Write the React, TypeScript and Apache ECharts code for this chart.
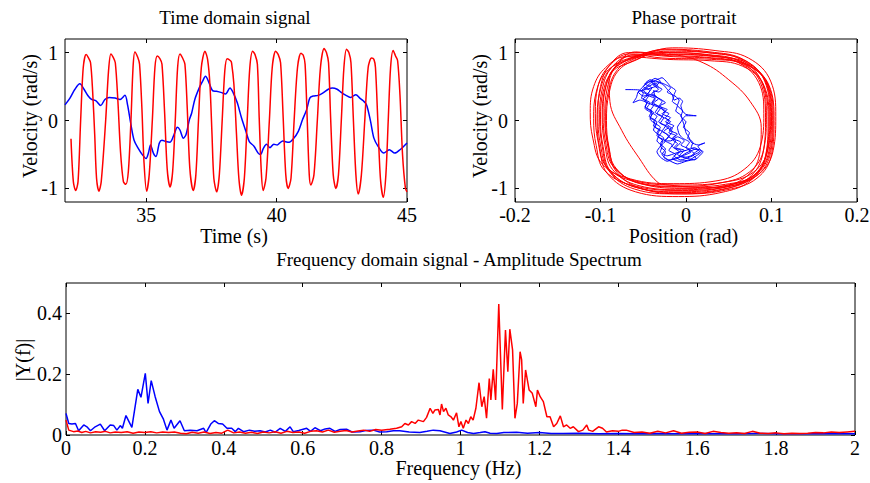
import React, { useEffect, useRef } from "react";
import * as echarts from "echarts";

type P = [number, number];

// ---------- Time domain (t [s], velocity [rad/s]) ----------
const timeBlue: P[] = [
  [31.88, 0.23], [32.07, 0.33], [32.26, 0.46], [32.45, 0.54], [32.61, 0.46], [32.77, 0.36], [32.9, 0.31],
  [33.07, 0.29], [33.25, 0.22], [33.41, 0.31], [33.58, 0.34], [33.8, 0.33], [33.99, 0.31], [34.18, 0.37],
  [34.28, 0.23], [34.4, -0.04], [34.53, -0.29], [34.69, -0.41], [34.86, -0.51], [34.99, -0.56], [35.08, -0.48],
  [35.16, -0.36], [35.27, -0.48], [35.37, -0.53], [35.5, -0.33], [35.6, -0.29], [35.75, -0.31], [35.91, -0.32],
  [36.06, -0.21], [36.19, -0.1], [36.29, -0.14], [36.42, -0.26], [36.52, -0.21], [36.65, 0.01], [36.74, 0.11],
  [36.86, 0.31], [37.03, 0.48], [37.16, 0.58], [37.27, 0.65], [37.38, 0.58], [37.54, 0.44], [37.69, 0.43],
  [37.89, 0.41], [38.04, 0.39], [38.21, 0.48], [38.33, 0.41], [38.49, 0.26], [38.65, 0.04], [38.82, -0.16],
  [38.95, -0.31], [39.13, -0.38], [39.29, -0.48], [39.38, -0.5], [39.49, -0.41], [39.61, -0.35], [39.74, -0.4],
  [39.89, -0.35], [40.02, -0.36], [40.12, -0.33], [40.23, -0.3], [40.32, -0.31], [40.48, -0.32], [40.64, -0.27],
  [40.83, -0.16], [40.99, 0.01], [41.15, 0.16], [41.27, 0.33], [41.4, 0.36], [41.59, 0.37], [41.79, 0.41],
  [41.98, 0.46], [42.14, 0.48], [42.32, 0.46], [42.49, 0.41], [42.66, 0.37], [42.83, 0.34], [43.04, 0.38],
  [43.19, 0.33], [43.32, 0.29], [43.45, 0.23], [43.6, -0.01], [43.73, -0.26], [43.89, -0.38], [44.11, -0.48],
  [44.32, -0.43], [44.53, -0.48], [44.73, -0.43], [45.0, -0.33],
];

const timeRed: P[] = [
  [32.11, -0.27], [32.2, -0.9], [32.29, -1.03], [32.38, -0.9], [32.48, 0], [32.58, 0.78], [32.69, 0.97], [32.77, 0.93], [32.86, 0.85], [32.94, 0.43], [33.02, -0.21], [33.09, -0.85], [33.18, -1.04],
  [33.27, -0.9], [33.44, 0], [33.55, 0.73], [33.64, 0.98], [33.73, 0.93], [33.81, 0.85], [33.91, 0.28], [34.01, -0.46], [34.12, -0.9], [34.21, -0.94],
  [34.31, -0.75], [34.41, 0], [34.49, 0.78], [34.56, 1.01], [34.67, 0.93], [34.74, 0.83], [34.83, 0.18], [34.91, -0.61], [35.01, -1.04],
  [35.11, -0.8], [35.23, 0], [35.33, 0.78], [35.42, 0.95], [35.52, 0.91], [35.6, 0.83], [35.7, 0.13], [35.8, -0.71], [35.91, -0.98],
  [36.01, -0.75], [36.11, 0], [36.2, 0.78], [36.29, 0.98], [36.39, 0.92], [36.48, 0.83], [36.57, 0.18], [36.67, -0.71], [36.8, -1.03],
  [36.9, -0.8], [37.0, 0], [37.11, 0.78], [37.25, 1.02], [37.35, 0.9], [37.44, 0.53], [37.52, -0.21], [37.59, -0.85], [37.7, -1.05],
  [37.8, -0.8], [37.91, 0], [38.01, 0.73], [38.1, 0.91], [38.23, 0.88], [38.27, 0.85], [38.36, 0.53], [38.46, -0.21], [38.55, -0.85], [38.65, -1.1],
  [38.76, -0.85], [38.87, 0], [38.97, 0.78], [39.08, 1.02], [39.17, 0.97], [39.26, 0.83], [39.33, 0.04], [39.41, -0.75], [39.48, -1.03],
  [39.59, -0.85], [39.72, 0], [39.83, 0.78], [39.96, 1.02], [40.06, 0.97], [40.15, 0.85], [40.25, 0.04], [40.35, -0.8], [40.44, -1.0],
  [40.55, -0.85], [40.67, 0], [40.8, 0.78], [40.93, 0.99], [41.02, 0.96], [41.09, 0.83], [41.17, 0.04], [41.25, -0.8], [41.31, -0.95],
  [41.43, -0.8], [41.56, 0], [41.68, 0.78], [41.82, 1.06], [41.91, 1.0], [41.99, 0.85], [42.07, 0.04], [42.17, -0.8], [42.27, -1.0],
  [42.37, -0.8], [42.48, 0], [42.58, 0.78], [42.68, 1.05], [42.77, 1.0], [42.85, 0.85], [42.94, 0.04], [43.04, -0.8], [43.13, -1.08],
  [43.25, -0.8], [43.38, 0], [43.51, 0.78], [43.64, 0.92], [43.73, 0.9], [43.79, 0.78], [43.88, 0], [43.98, -0.85], [44.09, -1.13],
  [44.19, -0.8], [44.28, 0], [44.37, 0.78], [44.47, 1.03], [44.56, 0.95], [44.64, 0.88], [44.73, 0.38], [44.83, -0.51], [44.94, -1.0], [45.0, -1.05],
];

// ---------- Phase portrait (position [rad], velocity [rad/s]) ----------
// each loop is listed clockwise, starting at the top of the orbit
const phaseRedLoops: P[][] = [
  [[-0.02, 0.98], [0.03, 0.95], [0.068, 0.85], [0.094, 0.55], [0.1, 0.05], [0.097, -0.45], [0.08, -0.8], [0.045, -0.96], [-0.005, -1.02], [-0.055, -0.96], [-0.086, -0.72], [-0.095, -0.35], [-0.098, 0.05], [-0.095, 0.45], [-0.084, 0.76], [-0.062, 0.93]],
  [[-0.024, 1.04], [0.026, 1.0], [0.064, 0.9], [0.088, 0.58], [0.094, 0.08], [0.091, -0.42], [0.074, -0.76], [0.04, -0.92], [-0.01, -0.97], [-0.06, -0.9], [-0.093, -0.68], [-0.103, -0.3], [-0.106, 0.1], [-0.103, 0.5], [-0.09, 0.8], [-0.066, 0.98]],
  [[-0.015, 0.94], [0.035, 0.91], [0.072, 0.82], [0.097, 0.52], [0.103, 0.0], [0.1, -0.5], [0.083, -0.85], [0.048, -1.02], [0.0, -1.08], [-0.05, -1.01], [-0.081, -0.76], [-0.09, -0.4], [-0.093, 0.0], [-0.09, 0.4], [-0.08, 0.72], [-0.058, 0.9]],
  [[-0.028, 1.0], [0.022, 0.97], [0.06, 0.86], [0.085, 0.56], [0.091, 0.1], [0.087, -0.38], [0.068, -0.72], [0.035, -0.89], [-0.015, -0.93], [-0.065, -0.86], [-0.098, -0.64], [-0.109, -0.26], [-0.112, 0.12], [-0.108, 0.5], [-0.094, 0.78], [-0.07, 0.94]],
  [[-0.022, 0.9], [0.028, 0.88], [0.066, 0.8], [0.091, 0.52], [0.097, 0.02], [0.094, -0.48], [0.077, -0.83], [0.043, -0.99], [-0.007, -1.05], [-0.057, -0.99], [-0.088, -0.75], [-0.097, -0.38], [-0.1, 0.02], [-0.097, 0.42], [-0.086, 0.72], [-0.064, 0.86]],
  [[-0.016, 1.07], [0.034, 1.03], [0.073, 0.92], [0.099, 0.58], [0.105, 0.06], [0.102, -0.44], [0.085, -0.79], [0.05, -0.95], [0.0, -1.0], [-0.05, -0.94], [-0.083, -0.7], [-0.092, -0.34], [-0.095, 0.06], [-0.092, 0.48], [-0.081, 0.82], [-0.059, 1.01]],
  [[-0.026, 0.96], [0.024, 0.93], [0.064, 0.84], [0.09, 0.54], [0.096, -0.02], [0.093, -0.52], [0.076, -0.88], [0.041, -1.06], [-0.009, -1.12], [-0.059, -1.05], [-0.092, -0.78], [-0.101, -0.4], [-0.104, -0.02], [-0.101, 0.4], [-0.09, 0.74], [-0.068, 0.91]],
  [[-0.019, 1.02], [0.031, 0.99], [0.069, 0.88], [0.093, 0.57], [0.099, 0.06], [0.096, -0.42], [0.079, -0.76], [0.044, -0.91], [-0.006, -0.95], [-0.056, -0.9], [-0.085, -0.68], [-0.094, -0.32], [-0.097, 0.08], [-0.094, 0.48], [-0.083, 0.79], [-0.061, 0.97]],
  [[-0.028, 0.92], [0.03, 0.9], [0.07, 0.82], [0.096, 0.53], [0.102, 0.02], [0.099, -0.47], [0.082, -0.82], [0.046, -0.98], [-0.004, -1.03], [-0.058, -0.97], [-0.095, -0.74], [-0.105, -0.37], [-0.108, 0.03], [-0.105, 0.42], [-0.093, 0.72], [-0.07, 0.88]],
  [[-0.023, 1.0], [0.026, 0.97], [0.063, 0.87], [0.087, 0.56], [0.093, 0.04], [0.09, -0.48], [0.073, -0.85], [0.038, -1.03], [-0.012, -1.08], [-0.06, -1.01], [-0.089, -0.76], [-0.098, -0.38], [-0.101, 0.05], [-0.098, 0.46], [-0.087, 0.78], [-0.065, 0.95]],
  [[-0.016, 0.97], [0.034, 0.94], [0.071, 0.85], [0.095, 0.54], [0.101, 0.0], [0.098, -0.46], [0.081, -0.8], [0.046, -0.94], [-0.004, -0.98], [-0.053, -0.93], [-0.082, -0.7], [-0.091, -0.36], [-0.094, 0.0], [-0.091, 0.42], [-0.08, 0.75], [-0.058, 0.92]],
  [[-0.025, 1.05], [0.028, 1.01], [0.067, 0.9], [0.092, 0.58], [0.098, 0.05], [0.095, -0.46], [0.078, -0.84], [0.043, -1.01], [-0.007, -1.06], [-0.057, -0.99], [-0.09, -0.74], [-0.1, -0.36], [-0.103, 0.09], [-0.1, 0.5], [-0.089, 0.82], [-0.067, 1.0]],
  [[-0.015, 0.97], [0.02, 0.85], [0.05, 0.6], [0.075, 0.28], [0.088, -0.1], [0.086, -0.5], [0.068, -0.85], [0.03, -0.99], [-0.02, -0.95], [-0.034, -0.9], [-0.055, -0.55], [-0.075, -0.15], [-0.089, 0.28], [-0.09, 0.62], [-0.07, 0.88], [-0.04, 0.98]],
];

const phaseBlue: P[] = [
  [-0.071, 0.455], [-0.055, 0.45], [-0.05, 0.4], [-0.052, 0.33], [-0.045, 0.27], [-0.048, 0.2], [-0.04, 0.14], [-0.043, 0.06], [-0.036, 0.0], [-0.038, -0.08], [-0.031, -0.14], [-0.034, -0.22], [-0.027, -0.3], [-0.03, -0.38], [-0.024, -0.46], [-0.026, -0.54], [-0.018, -0.6], [-0.01, -0.64],
  [0.0, -0.6], [0.012, -0.56], [0.008, -0.5], [0.014, -0.44], [0.006, -0.4], [0.008, -0.32], [0.002, -0.26], [0.004, -0.18], [-0.003, -0.1], [0.0, -0.02], [-0.006, 0.06], [-0.004, 0.14], [-0.01, 0.22], [-0.008, 0.3], [-0.014, 0.38], [-0.012, 0.44], [-0.018, 0.5], [-0.022, 0.56], [-0.028, 0.63], [-0.034, 0.6],
  [-0.04, 0.56], [-0.034, 0.5], [-0.028, 0.46], [-0.032, 0.42], [-0.038, 0.44], [-0.036, 0.36], [-0.028, 0.3], [-0.024, 0.26], [-0.03, 0.22], [-0.026, 0.14], [-0.02, 0.1], [-0.024, 0.04], [-0.018, -0.02], [-0.022, -0.06], [-0.016, -0.12], [-0.02, -0.18], [-0.012, -0.22], [-0.016, -0.28], [-0.01, -0.34], [-0.014, -0.4], [-0.006, -0.44], [-0.01, -0.5], [0.0, -0.54], [0.01, -0.5], [0.016, -0.46], [0.01, -0.4],
  [0.0, -0.44], [-0.012, -0.48], [-0.022, -0.52], [-0.03, -0.46], [-0.028, -0.38], [-0.034, -0.3], [-0.032, -0.22], [-0.038, -0.14], [-0.036, -0.06], [-0.042, 0.02], [-0.04, 0.1], [-0.048, 0.18], [-0.046, 0.26], [-0.054, 0.3], [-0.062, 0.26], [-0.058, 0.34], [-0.056, 0.42], [-0.05, 0.5], [-0.046, 0.56],
  [-0.036, 0.58], [-0.026, 0.54], [-0.018, 0.48], [-0.022, 0.42], [-0.014, 0.36], [-0.016, 0.28], [-0.01, 0.22], [-0.012, 0.14], [-0.006, 0.08], [-0.004, 0.0], [-0.002, -0.08], [0.0, -0.18], [0.004, -0.26], [0.006, -0.32], [0.014, -0.36], [0.022, -0.33], [0.014, -0.38], [0.018, -0.46], [0.012, -0.52], [0.004, -0.58],
  [-0.008, -0.6], [-0.016, -0.56], [-0.012, -0.5], [-0.02, -0.44], [-0.016, -0.36], [-0.024, -0.3], [-0.02, -0.22], [-0.028, -0.16], [-0.024, -0.08], [-0.032, -0.02], [-0.028, 0.06], [-0.036, 0.12], [-0.032, 0.2], [-0.04, 0.26], [-0.036, 0.34], [-0.044, 0.4], [-0.04, 0.48], [-0.048, 0.54], [-0.042, 0.6], [-0.036, 0.56],
  [-0.044, 0.5], [-0.05, 0.44], [-0.044, 0.38], [-0.05, 0.32], [-0.042, 0.26], [-0.046, 0.18], [-0.038, 0.12], [-0.042, 0.04], [-0.034, -0.02], [-0.036, -0.1], [-0.028, -0.16], [-0.032, -0.24], [-0.024, -0.3], [-0.03, -0.38], [-0.034, -0.46], [-0.03, -0.54], [-0.022, -0.6], [-0.014, -0.56],
  [-0.004, -0.52], [0.006, -0.46], [0.0, -0.4], [0.004, -0.32], [-0.004, -0.26], [-0.008, -0.2], [-0.01, -0.1], [-0.006, -0.02], [-0.003, 0.04], [0.0, 0.07], [0.012, 0.07], [0.0, 0.09], [-0.004, 0.14], [-0.006, 0.22], [-0.004, 0.28], [-0.008, 0.33], [-0.014, 0.3], [-0.016, 0.38], [-0.022, 0.46], [-0.026, 0.52], [-0.032, 0.56],
  [-0.038, 0.52], [-0.032, 0.46], [-0.04, 0.4], [-0.034, 0.34], [-0.028, 0.28], [-0.032, 0.2], [-0.024, 0.14], [-0.028, 0.06], [-0.02, 0.0], [-0.024, -0.08], [-0.016, -0.16], [-0.02, -0.24], [-0.012, -0.3], [-0.016, -0.38], [-0.008, -0.46], [-0.014, -0.52], [-0.006, -0.58], [0.004, -0.54], [0.01, -0.5],
  [0.004, -0.42], [-0.006, -0.36], [-0.002, -0.3], [-0.01, -0.24], [-0.018, -0.3], [-0.026, -0.3], [-0.02, -0.24], [-0.026, -0.16], [-0.02, -0.1], [-0.03, -0.04], [-0.026, 0.04], [-0.034, 0.1], [-0.03, 0.18], [-0.04, 0.24], [-0.036, 0.32], [-0.046, 0.38], [-0.042, 0.44], [-0.05, 0.5], [-0.044, 0.56], [-0.036, 0.62], [-0.03, 0.58],
  [-0.036, 0.5], [-0.046, 0.46], [-0.056, 0.42], [-0.05, 0.36], [-0.04, 0.38], [-0.032, 0.32], [-0.038, 0.26], [-0.03, 0.2], [-0.022, 0.16], [-0.028, 0.1], [-0.018, 0.04], [-0.024, -0.02], [-0.014, -0.08], [-0.02, -0.14], [-0.01, -0.2], [-0.016, -0.26], [-0.006, -0.32], [-0.012, -0.4], [-0.002, -0.44], [-0.008, -0.52], [0.002, -0.56], [0.01, -0.58], [0.016, -0.52], [0.02, -0.46], [0.012, -0.42],
  [0.0, -0.48], [-0.01, -0.56], [-0.02, -0.58], [-0.028, -0.5], [-0.024, -0.42], [-0.03, -0.34], [-0.026, -0.26], [-0.034, -0.18], [-0.03, -0.1], [-0.038, -0.02], [-0.034, 0.06], [-0.042, 0.14], [-0.038, 0.22], [-0.048, 0.28], [-0.044, 0.36], [-0.052, 0.44], [-0.046, 0.5], [-0.04, 0.56], [-0.032, 0.5],
];

// ---------- Amplitude spectrum (frequency [Hz], |Y(f)|) ----------
const specBlue: P[] = [
  [0, 0.071], [0.007, 0.038], [0.015, 0.036], [0.024, 0.038], [0.032, 0.014], [0.045, 0.033], [0.053, 0.027], [0.062, 0.014],
  [0.074, 0.027], [0.087, 0.036], [0.098, 0.014], [0.112, 0.033], [0.121, 0.031], [0.129, 0.016], [0.138, 0.031], [0.143, 0.022],
  [0.152, 0.064], [0.167, 0.025], [0.182, 0.15], [0.19, 0.124], [0.201, 0.203], [0.208, 0.104], [0.216, 0.179], [0.226, 0.126],
  [0.237, 0.077], [0.247, 0.052], [0.256, 0.016], [0.266, 0.049], [0.274, 0.022], [0.289, 0.047], [0.3, 0.014], [0.315, 0.016],
  [0.332, 0.014], [0.349, 0.022], [0.355, 0.008], [0.367, 0.036], [0.376, 0.047], [0.386, 0.038], [0.397, 0.036], [0.408, 0.022],
  [0.42, 0.022], [0.429, 0.011], [0.437, 0.022], [0.45, 0.011], [0.465, 0.016], [0.478, 0.012], [0.492, 0.014], [0.505, 0.01],
  [0.518, 0.016], [0.53, 0.009], [0.543, 0.022], [0.556, 0.012], [0.568, 0.027], [0.576, 0.011], [0.59, 0.015], [0.61, 0.022],
  [0.62, 0.012], [0.631, 0.024], [0.645, 0.014], [0.657, 0.02], [0.669, 0.022], [0.682, 0.012], [0.695, 0.018], [0.711, 0.019],
  [0.725, 0.01], [0.745, 0.011], [0.76, 0.015], [0.779, 0.016], [0.795, 0.01], [0.813, 0.011], [0.83, 0.014], [0.846, 0.014],
  [0.87, 0.01], [0.897, 0.008], [0.915, 0.012], [0.931, 0.016], [0.948, 0.014], [0.973, 0.005], [0.99, 0.01], [1.003, 0.016],
  [1.018, 0.008], [1.033, 0.005], [1.05, 0.008], [1.062, 0.011], [1.075, 0.006], [1.092, 0.005], [1.11, 0.008], [1.142, 0.009],
  [1.17, 0.006], [1.2, 0.008], [1.23, 0.005], [1.26, 0.005], [1.3, 0.006], [1.35, 0.004], [1.4, 0.005], [1.45, 0.004],
  [1.5, 0.005], [1.55, 0.004], [1.6, 0.005], [1.65, 0.004], [1.7, 0.004], [1.75, 0.005], [1.8, 0.004], [1.85, 0.004],
  [1.9, 0.004], [1.95, 0.005], [2.0, 0.004],
];

const specRed: P[] = [
  [0, 0.049], [0.007, 0.016], [0.019, 0.011], [0.03, 0.013], [0.04, 0.008], [0.05, 0.012], [0.062, 0.007], [0.075, 0.011],
  [0.088, 0.009], [0.1, 0.012], [0.112, 0.007], [0.125, 0.01], [0.14, 0.008], [0.155, 0.011], [0.17, 0.006], [0.185, 0.01],
  [0.2, 0.008], [0.215, 0.011], [0.23, 0.007], [0.245, 0.01], [0.26, 0.008], [0.275, 0.01], [0.29, 0.006], [0.305, 0.004],
  [0.32, 0.009], [0.335, 0.006], [0.35, 0.01], [0.365, 0.005], [0.38, 0.008], [0.395, 0.006], [0.41, 0.016], [0.425, 0.007],
  [0.44, 0.01], [0.455, 0.006], [0.47, 0.009], [0.485, 0.005], [0.5, 0.01], [0.515, 0.007], [0.53, 0.011], [0.545, 0.006],
  [0.56, 0.012], [0.575, 0.008], [0.59, 0.01], [0.605, 0.006], [0.62, 0.012], [0.635, 0.014], [0.65, 0.01], [0.665, 0.016],
  [0.68, 0.009], [0.695, 0.012], [0.71, 0.015], [0.725, 0.01], [0.74, 0.013], [0.755, 0.016], [0.77, 0.012], [0.785, 0.018],
  [0.8, 0.016], [0.821, 0.019], [0.838, 0.022], [0.851, 0.027], [0.859, 0.038], [0.868, 0.033], [0.876, 0.044], [0.885, 0.038],
  [0.893, 0.049], [0.906, 0.044], [0.914, 0.058], [0.923, 0.088], [0.93, 0.071], [0.935, 0.082], [0.944, 0.084], [0.948, 0.066],
  [0.952, 0.102], [0.957, 0.077], [0.963, 0.088], [0.969, 0.066], [0.976, 0.06], [0.982, 0.049], [0.99, 0.073], [0.996, 0.027],
  [1.001, 0.044], [1.007, 0.022], [1.014, 0.049], [1.02, 0.038], [1.026, 0.06], [1.032, 0.049], [1.039, 0.088], [1.047, 0.172],
  [1.054, 0.093], [1.06, 0.126], [1.066, 0.055], [1.073, 0.186], [1.077, 0.115], [1.083, 0.216], [1.089, 0.115], [1.097, 0.431],
  [1.106, 0.084], [1.114, 0.345], [1.12, 0.208], [1.125, 0.348], [1.132, 0.28], [1.138, 0.055], [1.144, 0.104], [1.151, 0.274],
  [1.155, 0.247], [1.159, 0.104], [1.165, 0.214], [1.174, 0.148], [1.182, 0.137], [1.191, 0.093], [1.195, 0.148], [1.202, 0.126],
  [1.21, 0.11], [1.219, 0.06], [1.227, 0.06], [1.236, 0.027], [1.244, 0.038], [1.253, 0.063], [1.261, 0.027], [1.269, 0.033],
  [1.278, 0.022], [1.286, 0.027], [1.299, 0.011], [1.31, 0.016], [1.32, 0.033], [1.325, 0.016], [1.335, 0.012], [1.35, 0.027],
  [1.36, 0.022], [1.37, 0.01], [1.385, 0.014], [1.4, 0.012], [1.41, 0.016], [1.42, 0.016], [1.44, 0.008], [1.46, 0.01],
  [1.48, 0.006], [1.5, 0.012], [1.52, 0.007], [1.54, 0.014], [1.56, 0.006], [1.58, 0.009], [1.6, 0.01], [1.62, 0.005],
  [1.64, 0.012], [1.66, 0.008], [1.68, 0.006], [1.7, 0.007], [1.72, 0.005], [1.74, 0.012], [1.76, 0.006], [1.78, 0.005],
  [1.8, 0.007], [1.82, 0.004], [1.84, 0.006], [1.86, 0.005], [1.88, 0.006], [1.9, 0.008], [1.92, 0.007], [1.94, 0.01],
  [1.96, 0.008], [1.98, 0.01], [2.0, 0.012],
];

// ---------- Axis ticks ----------
const timeTicks = [35, 40, 45];
const velTicks = [-1, 0, 1];
const ampTicks = [0, 0.2, 0.4];

const FONT = "Liberation Serif";
const BLUE = "#0000ff";
const RED = "#ff0000";

const grids = [
  { left: 65, top: 39, width: 342, height: 163 },
  { left: 515, top: 39, width: 342, height: 163 },
  { left: 66, top: 283, width: 789, height: 152 },
];

function tickCfg(custom?: number[]) {
  const t: any = { show: true, inside: true, length: 4, lineStyle: { color: "#000", width: 1 } };
  if (custom) t.customValues = custom;
  return t;
}

function labelCfg(show: boolean, margin: number, custom?: number[]) {
  const l: any = { show, color: "#000", fontFamily: FONT, fontSize: 20, margin, showMinLabel: true, showMaxLabel: true };
  if (custom) l.customValues = custom;
  return l;
}

function axis(gridIndex: number, position: string, min: number, max: number, showLabel: boolean, opts: any, defMargin: number) {
  return {
    type: "value", gridIndex, position, min, max,
    interval: opts.interval,
    axisLine: { show: false, onZero: false },
    splitLine: { show: false },
    axisTick: tickCfg(opts.custom),
    axisLabel: labelCfg(showLabel, opts.margin ?? defMargin, opts.custom),
  };
}

function txt(text: string, x: number, y: number, size: number, rotation = 0) {
  return {
    type: "text", x, y, rotation,
    style: {
      text, fill: "#000", fontFamily: FONT, fontSize: size,
      align: "center", verticalAlign: "middle", textAlign: "center", textVerticalAlign: "middle",
    },
  };
}

export default function App() {
  const ref = useRef<HTMLDivElement>(null);
  useEffect(() => {
    document.body.style.margin = "0";
    const chart = echarts.init(ref.current!, null, { renderer: "svg" });
    const phaseRed: P[] = ([] as P[]).concat(...phaseRedLoops);
    const option: any = {
      animation: false,
      backgroundColor: "#fff",
      textStyle: { fontFamily: FONT, color: "#000" },
      grid: grids.map((g) => ({ ...g, show: true, borderColor: "#000", borderWidth: 1, backgroundColor: "transparent", containLabel: false, outerBoundsMode: "none" })),
      xAxis: [
        axis(0, "bottom", 31.88, 45, true, { custom: timeTicks }, 3),
        axis(1, "bottom", -0.2, 0.2, true, { interval: 0.1 }, 3),
        axis(2, "bottom", 0, 2, true, { interval: 0.2 }, 3),
        axis(0, "top", 31.88, 45, false, { custom: timeTicks }, 3),
        axis(1, "top", -0.2, 0.2, false, { interval: 0.1 }, 3),
        axis(2, "top", 0, 2, false, { interval: 0.2 }, 3),
      ],
      yAxis: [
        axis(0, "left", -1.2, 1.2, true, { custom: velTicks }, 7),
        axis(1, "left", -1.2, 1.2, true, { custom: velTicks }, 7),
        axis(2, "left", 0, 0.5, true, { custom: ampTicks, margin: 4 }, 7),
        axis(0, "right", -1.2, 1.2, false, { custom: velTicks }, 7),
        axis(1, "right", -1.2, 1.2, false, { custom: velTicks }, 7),
        axis(2, "right", 0, 0.5, false, { custom: ampTicks }, 7),
      ],
      series: [
        { type: "line", xAxisIndex: 0, yAxisIndex: 0, data: timeBlue, showSymbol: false, smooth: 0.3, lineStyle: { color: BLUE, width: 1.5 }, itemStyle: { color: BLUE } },
        { type: "line", xAxisIndex: 0, yAxisIndex: 0, data: timeRed, showSymbol: false, smooth: 0.3, lineStyle: { color: RED, width: 1.5 }, itemStyle: { color: RED } },
        { type: "line", xAxisIndex: 1, yAxisIndex: 1, data: phaseBlue, showSymbol: false, smooth: 0.2, lineStyle: { color: BLUE, width: 1 }, itemStyle: { color: BLUE } },
        { type: "line", xAxisIndex: 1, yAxisIndex: 1, data: phaseRed, showSymbol: false, smooth: 0.4, lineStyle: { color: RED, width: 1 }, itemStyle: { color: RED } },
        { type: "line", xAxisIndex: 2, yAxisIndex: 2, data: specBlue, showSymbol: false, lineStyle: { color: BLUE, width: 1.5 }, itemStyle: { color: BLUE } },
        { type: "line", xAxisIndex: 2, yAxisIndex: 2, data: specRed, showSymbol: false, lineStyle: { color: RED, width: 1.5 }, itemStyle: { color: RED } },
      ],
      graphic: [
        txt("Time domain signal", 235, 17.6, 19),
        txt("Phase portrait", 684, 17.6, 19),
        txt("Frequency domain signal - Amplitude Spectrum", 459, 259.6, 19),
        txt("Time (s)", 234, 236, 20),
        txt("Position (rad)", 683.5, 236, 20),
        txt("Frequency (Hz)", 458.5, 468, 20),
        txt("Velocity (rad/s)", 30, 116, 20, Math.PI / 2),
        txt("Velocity (rad/s)", 480, 116, 20, Math.PI / 2),
        txt("|Y(f)|", 22.5, 360, 20, Math.PI / 2),
      ],
    };
    chart.setOption(option);
    return () => chart.dispose();
  }, []);
  return <div ref={ref} style={{ width: 870, height: 483 }} />;
}
